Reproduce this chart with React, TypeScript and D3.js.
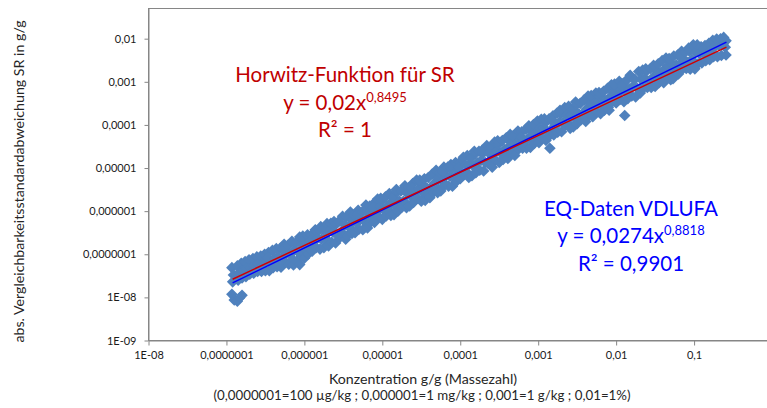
import React, { useEffect, useRef } from 'react';
import * as d3 from 'd3';

// Axis ticks (g/g) with the German labels used in the chart
const xTicks = [1e-8, 1e-7, 1e-6, 1e-5, 1e-4, 1e-3, 1e-2, 1e-1];
const xTickLabels = ['1E-08', '0,0000001', '0,000001', '0,00001', '0,0001', '0,001', '0,01', '0,1'];
const yTicks = [1e-9, 1e-8, 1e-7, 1e-6, 1e-5, 1e-4, 1e-3, 1e-2];
const yTickLabels = ['1E-09', '1E-08', '0,0000001', '0,000001', '0,00001', '0,0001', '0,001', '0,01'];

// Power-law trend lines SR = a * c^b
const horwitzFit = { a: 0.02, b: 0.8495 };
const vdlufaFit = { a: 0.0274, b: 0.8818 };
const fitRange = [1.2e-7, 0.26];

// EQ results: [log10 concentration g/g, log10 SR g/g]
const logPoints: [number, number][] = [
  [-6.93, -7.31], [-6.91, -7.48], [-6.92, -7.64], [-6.86, -7.27], [-6.84, -7.43], [-6.85, -7.6],
  [-6.81, -7.21], [-6.79, -7.38], [-6.8, -7.55], [-6.76, -7.17], [-6.74, -7.33], [-6.75, -7.52],
  [-6.71, -7.13], [-6.69, -7.31], [-6.7, -7.46], [-6.66, -7.1], [-6.64, -7.27], [-6.65, -7.44],
  [-6.61, -7.06], [-6.59, -7.22], [-6.6, -7.4], [-6.56, -7.04], [-6.54, -7.2], [-6.55, -7.4],
  [-6.51, -7.0], [-6.49, -7.18], [-6.5, -7.38],
  [-6.93, -7.93], [-6.9, -8.06], [-6.86, -8.09], [-6.83, -8.01], [-6.8, -7.95],
  [-6.46, -6.96], [-6.43, -7.16], [-6.45, -7.38], [-6.47, -7.07],
  [-6.41, -6.91], [-6.38, -7.09], [-6.4, -7.31],
  [-6.36, -6.87], [-6.33, -7.07], [-6.35, -7.29], [-6.37, -7.21],
  [-6.31, -6.86], [-6.28, -7.07], [-6.3, -7.3],
  [-6.26, -6.77], [-6.23, -6.95], [-6.25, -7.17], [-6.27, -6.87],
  [-6.21, -6.79], [-6.18, -7.0], [-6.2, -7.23],
  [-6.16, -6.7], [-6.13, -6.9], [-6.15, -7.12], [-6.14, -7.25],
  [-6.11, -6.74], [-6.08, -6.94], [-6.1, -7.16], [-6.06, -7.24],
  [-6.06, -6.6], [-6.03, -6.78], [-6.05, -7.0],
  [-6.01, -6.68], [-5.98, -6.89], [-6.0, -7.09], [-6.02, -6.58],
  [-5.96, -6.55], [-5.93, -6.76], [-5.95, -6.99],
  [-5.91, -6.55], [-5.88, -6.79], [-5.9, -6.93], [-5.92, -6.69],
  [-5.86, -6.43], [-5.83, -6.63], [-5.85, -6.85],
  [-5.81, -6.44], [-5.78, -6.65], [-5.8, -6.88], [-5.79, -6.36],
  [-5.76, -6.43], [-5.73, -6.63], [-5.75, -6.85],
  [-5.71, -6.29], [-5.68, -6.47], [-5.7, -6.69], [-5.69, -6.81],
  [-5.66, -6.28], [-5.63, -6.49], [-5.65, -6.72],
  [-5.61, -6.33], [-5.58, -6.54], [-5.6, -6.74], [-5.62, -6.24],
  [-5.56, -6.24], [-5.53, -6.48], [-5.55, -6.62],
  [-5.51, -6.12], [-5.48, -6.32], [-5.5, -6.54], [-5.47, -6.65],
  [-5.46, -6.13], [-5.43, -6.34], [-5.45, -6.57],
  [-5.41, -6.02], [-5.38, -6.2], [-5.4, -6.42], [-5.39, -6.52],
  [-5.36, -6.08], [-5.33, -6.28], [-5.35, -6.5],
  [-5.31, -5.98], [-5.28, -6.19], [-5.3, -6.42], [-5.32, -6.08],
  [-5.26, -6.02], [-5.23, -6.23], [-5.25, -6.43],
  [-5.21, -5.86], [-5.18, -6.06], [-5.2, -6.28], [-5.19, -6.39],
  [-5.16, -5.88], [-5.13, -6.12], [-5.15, -6.26],
  [-5.11, -5.82], [-5.08, -6.03], [-5.1, -6.26], [-5.12, -5.92],
  [-5.06, -5.72], [-5.03, -5.9], [-5.05, -6.12],
  [-5.01, -5.77], [-4.98, -5.97], [-5.0, -6.19], [-5.02, -5.7],
  [-4.96, -5.67], [-4.93, -5.88], [-4.95, -6.11],
  [-4.91, -5.59], [-4.88, -5.79], [-4.9, -6.01], [-4.89, -6.1],
  [-4.86, -5.67], [-4.83, -5.88], [-4.85, -6.08],
  [-4.81, -5.56], [-4.78, -5.77], [-4.8, -6.0], [-4.82, -5.5],
  [-4.76, -5.53], [-4.73, -5.77], [-4.75, -5.91],
  [-4.71, -5.41], [-4.68, -5.59], [-4.7, -5.81], [-4.69, -5.92],
  [-4.66, -5.46], [-4.63, -5.66], [-4.65, -5.88],
  [-4.61, -5.36], [-4.58, -5.57], [-4.6, -5.8], [-4.62, -5.47],
  [-4.56, -5.28], [-4.53, -5.48], [-4.55, -5.7],
  [-4.51, -5.36], [-4.48, -5.57], [-4.5, -5.77], [-4.52, -5.28],
  [-4.46, -5.25], [-4.43, -5.46], [-4.45, -5.75],
  [-4.41, -5.22], [-4.38, -5.46], [-4.4, -5.6], [-4.39, -5.69],
  [-4.36, -5.14], [-4.33, -5.35], [-4.35, -5.58],
  [-4.31, -5.05], [-4.28, -5.23], [-4.3, -5.45], [-4.29, -5.57],
  [-4.26, -5.11], [-4.23, -5.31], [-4.25, -5.53],
  [-4.21, -4.98], [-4.18, -5.18], [-4.2, -5.4], [-4.22, -5.08],
  [-4.16, -4.98], [-4.13, -5.19], [-4.15, -5.42],
  [-4.11, -5.01], [-4.08, -5.22], [-4.1, -5.42], [-4.12, -4.92],
  [-4.06, -4.87], [-4.03, -5.08], [-4.05, -5.31],
  [-4.01, -4.87], [-3.98, -5.11], [-4.0, -5.25], [-4.02, -4.99],
  [-3.96, -4.75], [-3.93, -4.93], [-3.95, -5.15],
  [-3.91, -4.71], [-3.88, -4.91], [-3.9, -5.13], [-3.89, -5.22],
  [-3.86, -4.76], [-3.83, -4.96], [-3.85, -5.18],
  [-3.81, -4.67], [-3.78, -4.88], [-3.8, -5.11], [-3.82, -4.61],
  [-3.76, -4.61], [-3.73, -4.82], [-3.75, -5.05],
  [-3.71, -4.66], [-3.68, -4.87], [-3.7, -5.07], [-3.72, -4.59],
  [-3.66, -4.48], [-3.63, -4.66], [-3.65, -4.88],
  [-3.61, -4.52], [-3.58, -4.76], [-3.6, -4.9], [-3.59, -4.98],
  [-3.56, -4.4], [-3.53, -4.6], [-3.55, -4.82],
  [-3.51, -4.45], [-3.48, -4.65], [-3.5, -4.87], [-3.52, -4.37],
  [-3.46, -4.36], [-3.43, -4.57], [-3.45, -4.8],
  [-3.41, -4.3], [-3.38, -4.51], [-3.4, -4.74], [-3.39, -4.78],
  [-3.36, -4.22], [-3.33, -4.4], [-3.35, -4.62],
  [-3.31, -4.3], [-3.28, -4.51], [-3.3, -4.71], [-3.32, -4.25],
  [-3.26, -4.14], [-3.23, -4.34], [-3.25, -4.56],
  [-3.21, -4.16], [-3.18, -4.4], [-3.2, -4.54], [-3.22, -4.28],
  [-3.16, -4.1], [-3.13, -4.31], [-3.15, -4.54],
  [-3.11, -4.1], [-3.08, -4.3], [-3.1, -4.52], [-3.12, -4.02],
  [-3.06, -3.99], [-3.03, -4.2], [-3.05, -4.43],
  [-3.01, -3.91], [-2.98, -4.09], [-3.0, -4.31], [-2.99, -4.41],
  [-2.96, -3.87], [-2.93, -4.07], [-2.95, -4.29],
  [-2.91, -3.95], [-2.88, -4.16], [-2.9, -4.36], [-2.92, -3.86],
  [-2.86, -3.86], [-2.83, -4.1], [-2.85, -4.24], [-2.85, -4.54],
  [-2.81, -3.79], [-2.78, -4.0], [-2.8, -4.23], [-2.82, -3.89],
  [-2.76, -3.73], [-2.73, -3.94], [-2.75, -4.17],
  [-2.71, -3.74], [-2.68, -3.94], [-2.7, -4.16], [-2.72, -3.66],
  [-2.66, -3.6], [-2.63, -3.78], [-2.65, -4.0],
  [-2.61, -3.57], [-2.58, -3.77], [-2.6, -3.99], [-2.59, -4.08],
  [-2.56, -3.64], [-2.53, -3.85], [-2.55, -4.05],
  [-2.51, -3.53], [-2.48, -3.74], [-2.5, -3.97], [-2.52, -3.47],
  [-2.46, -3.5], [-2.43, -3.74], [-2.45, -3.88],
  [-2.41, -3.42], [-2.38, -3.63], [-2.4, -3.86], [-2.39, -3.92],
  [-2.36, -3.33], [-2.33, -3.51], [-2.35, -3.73],
  [-2.31, -3.39], [-2.28, -3.59], [-2.3, -3.81], [-2.32, -3.32],
  [-2.26, -3.26], [-2.23, -3.46], [-2.25, -3.68],
  [-2.21, -3.33], [-2.18, -3.54], [-2.2, -3.74], [-2.22, -3.25],
  [-2.16, -3.22], [-2.13, -3.43], [-2.15, -3.66],
  [-2.11, -3.15], [-2.08, -3.36], [-2.1, -3.59], [-2.09, -3.66],
  [-2.06, -3.07], [-2.03, -3.25], [-2.05, -3.47],
  [-2.01, -3.11], [-1.98, -3.35], [-2.0, -3.49], [-2.02, -3.05],
  [-1.96, -2.99], [-1.93, -3.19], [-1.95, -3.41],
  [-1.91, -3.04], [-1.88, -3.24], [-1.9, -3.46], [-1.89, -3.78], [-1.92, -3.1],
  [-1.86, -2.95], [-1.83, -3.16], [-1.85, -3.39],
  [-1.81, -2.89], [-1.78, -3.1], [-1.8, -3.33], [-1.82, -2.85],
  [-1.76, -2.94], [-1.73, -3.15], [-1.75, -3.35],
  [-1.71, -2.76], [-1.68, -2.94], [-1.7, -3.16], [-1.69, -3.26],
  [-1.66, -2.73], [-1.63, -2.93], [-1.65, -3.15],
  [-1.61, -2.75], [-1.58, -2.99], [-1.6, -3.13], [-1.62, -2.7],
  [-1.56, -2.69], [-1.53, -2.9], [-1.55, -3.13],
  [-1.51, -2.69], [-1.48, -2.89], [-1.5, -3.11], [-1.52, -2.62],
  [-1.46, -2.58], [-1.43, -2.79], [-1.45, -3.02],
  [-1.41, -2.51], [-1.38, -2.71], [-1.4, -2.93], [-1.39, -3.02],
  [-1.36, -2.45], [-1.33, -2.63], [-1.35, -2.85],
  [-1.31, -2.54], [-1.28, -2.75], [-1.3, -2.95], [-1.32, -2.46],
  [-1.26, -2.4], [-1.23, -2.61], [-1.25, -2.84], [-1.27, -2.93],
  [-1.21, -2.38], [-1.18, -2.59], [-1.2, -2.82],
  [-1.16, -2.29], [-1.13, -2.49], [-1.15, -2.71], [-1.17, -2.4],
  [-1.11, -2.31], [-1.08, -2.55], [-1.1, -2.69],
  [-1.06, -2.29], [-1.03, -2.49], [-1.05, -2.71], [-1.07, -2.22],
  [-1.01, -2.14], [-0.98, -2.32], [-1.0, -2.54],
  [-0.96, -2.14], [-0.93, -2.35], [-0.95, -2.58], [-0.99, -2.7],
  [-0.91, -2.19], [-0.88, -2.33], [-0.9, -2.56],
  [-0.86, -2.16], [-0.83, -2.31], [-0.85, -2.51], [-0.87, -2.23],
  [-0.81, -2.11], [-0.78, -2.25], [-0.8, -2.49],
  [-0.76, -2.04], [-0.73, -2.18], [-0.75, -2.42],
  [-0.71, -2.01], [-0.68, -2.15], [-0.7, -2.42],
  [-0.66, -2.0], [-0.63, -2.14], [-0.65, -2.39],
  [-0.62, -1.97], [-0.59, -2.05], [-0.6, -2.2], [-0.59, -2.38],
];

const FONT = "Lato, 'Open Sans', sans-serif";

export default function App() {
  const ref = useRef<SVGSVGElement>(null);

  useEffect(() => {
    const width = 767;
    const height = 408;
    // plot area (right side runs past the picture edge, up to 1 g/g)
    const left = 148.5;
    const top = 8.5;
    const bottom = 340.5;
    const decade = 77.94;

    const x = d3.scaleLog().domain([1e-8, 1]).range([left, left + 8 * decade]);
    const y = d3.scaleLog().domain([1e-9, Math.pow(10, -1.3)]).range([bottom, top]);

    const svg = d3.select(ref.current);
    svg.selectAll('*').remove();
    svg.attr('width', width).attr('height', height);

    svg.append('rect').attr('width', width).attr('height', height).attr('fill', '#fff');

    // plot frame
    svg
      .append('rect')
      .attr('x', left)
      .attr('y', top)
      .attr('width', 8 * decade)
      .attr('height', bottom - top)
      .attr('fill', 'none')
      .attr('stroke', '#868686');

    // Draw points
    const s = 5.8;
    svg
      .append('g')
      .selectAll('path')
      .data(logPoints)
      .enter()
      .append('path')
      .attr('d', `M0,${-s}L${s},0L0,${s}L${-s},0Z`)
      .attr('transform', d => `translate(${x(10 ** d[0])},${y(10 ** d[1])})`)
      .attr('fill', '#4F81BD');

    // Trend lines
    const fitLine = (fit: { a: number; b: number }) =>
      d3
        .line<number>()
        .x(c => x(c))
        .y(c => y(fit.a * Math.pow(c, fit.b)))(fitRange);

    svg
      .append('path')
      .attr('d', fitLine(vdlufaFit))
      .attr('fill', 'none')
      .attr('stroke', '#0000FF')
      .attr('stroke-width', 1.5);

    svg
      .append('path')
      .attr('d', fitLine(horwitzFit))
      .attr('fill', 'none')
      .attr('stroke', '#D00000')
      .attr('stroke-width', 1.5);

    // Draw x axis
    const xAxis = d3
      .axisBottom(x)
      .tickValues(xTicks)
      .tickFormat((d, i) => xTickLabels[i])
      .tickSizeInner(5)
      .tickSizeOuter(0)
      .tickPadding(6);

    const xAxisDraw = svg
      .append('g')
      .attr('transform', `translate(0,${bottom})`)
      .call(xAxis);

    // Draw y axis
    const yAxis = d3
      .axisLeft(y)
      .tickValues(yTicks)
      .tickFormat((d, i) => yTickLabels[i])
      .tickSizeInner(4)
      .tickSizeOuter(0)
      .tickPadding(8);

    const yAxisDraw = svg
      .append('g')
      .attr('transform', `translate(${left},0)`)
      .call(yAxis);

    [xAxisDraw, yAxisDraw].forEach(g => {
      g.select('.domain').attr('stroke', '#868686');
      g.selectAll('.tick line').attr('stroke', '#868686');
      g.selectAll('text')
        .attr('font-family', FONT)
        .attr('font-size', 11)
        .attr('fill', '#1a1a1a');
    });

    // Axis titles
    svg
      .append('text')
      .attr('transform', 'translate(24,181.5) rotate(-90)')
      .attr('text-anchor', 'middle')
      .attr('font-family', FONT)
      .attr('font-size', 14.2)
      .attr('fill', '#262626')
      .text('abs. Vergleichbarkeitsstandardabweichung SR in g/g');

    svg
      .append('text')
      .attr('x', 423)
      .attr('y', 383.5)
      .attr('text-anchor', 'middle')
      .attr('font-family', FONT)
      .attr('font-size', 14.2)
      .attr('fill', '#262626')
      .text('Konzentration g/g (Massezahl)');

    svg
      .append('text')
      .attr('x', 422)
      .attr('y', 399.5)
      .attr('text-anchor', 'middle')
      .attr('font-family', FONT)
      .attr('font-size', 13.3)
      .attr('fill', '#262626')
      .text('(0,0000001=100 µg/kg ; 0,000001=1 mg/kg ; 0,001=1 g/kg ; 0,01=1%)');

    // Trend line labels
    const label = (cx: number, y0: number, color: string, lines: [string, string, string], sup: string) => {
      const g = svg
        .append('g')
        .attr('font-family', FONT)
        .attr('font-size', 20.5)
        .attr('fill', color)
        .attr('text-anchor', 'middle');
      g.append('text').attr('x', cx).attr('y', y0).text(lines[0]);
      const eq = g.append('text').attr('x', cx).attr('y', y0 + 27.5);
      eq.append('tspan').text(lines[1]);
      eq.append('tspan').attr('dy', -8).attr('font-size', 13).text(sup);
      g.append('text').attr('x', cx).attr('y', y0 + 55).text(lines[2]);
    };

    label(345, 82, '#C00000', ['Horwitz-Funktion für SR', 'y = 0,02x', 'R² = 1'], '0,8495');
    label(631, 215.5, '#0000FF', ['EQ-Daten VDLUFA', 'y = 0,0274x', 'R² = 0,9901'], '0,8818');
  }, []);

  return <svg ref={ref} style={{ position: 'absolute', left: 0, top: 0, display: 'block' }} />;
}
